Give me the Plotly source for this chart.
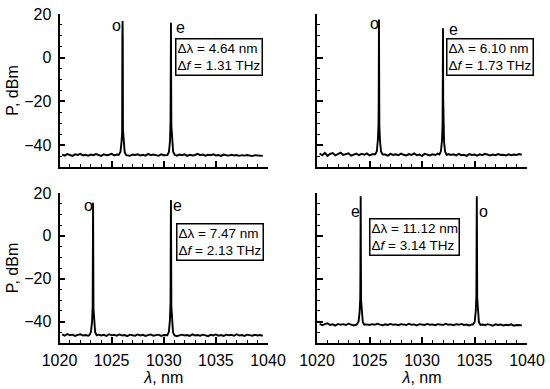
import numpy as np
import plotly.graph_objects as go

# ---------------- data ----------------
grid_start = 1020.25
grid_step = 0.25

base_tl = [-44.3,-44.8,-44.1,-44.6,-44.9,-44.2,-44.5,-44.0,-44.7,-44.4,
           -44.8,-44.3,-44.6,-44.1,-44.5,-44.9,-44.2,-44.6,-44.4,-44.0,
           -44.7,-44.3,-44.8,-44.5,-44.1,-44.6,-44.9,-44.3,-44.5,-44.2,
           -44.7,-44.4,-44.8,-44.0,-44.6,-44.3,-44.5,-44.9,-44.2,-44.6,
           -44.4,-44.7,-44.1,-44.5,-44.8,-44.3,-44.6,-44.2,-44.9,-44.4,
           -44.7,-44.5,-44.0,-44.6,-44.3,-44.8,-44.4,-44.6,-44.2,-44.7,
           -44.5,-44.9,-44.3,-44.6,-44.8,-44.4,-44.7,-44.5,-44.9,-44.6,
           -44.8,-44.5,-44.7,-45.0,-44.6,-44.8,-44.7,-44.9]
base_tr = [-43.8,-44.6,-43.5,-44.9,-44.0,-43.6,-44.7,-44.2,-43.4,-44.5,
           -44.1,-43.7,-44.8,-44.3,-43.9,-44.6,-44.0,-44.4,-43.8,-44.7,
           -44.2,-44.5,-43.9,-44.6,-44.1,-44.3,-44.8,-44.0,-44.5,-44.2,
           -44.6,-43.9,-44.4,-44.7,-44.1,-44.5,-43.8,-44.6,-44.3,-44.9,
           -44.0,-44.4,-44.7,-44.2,-44.5,-43.9,-44.6,-44.3,-44.8,-44.1,
           -44.5,-44.2,-44.7,-44.0,-44.6,-44.4,-44.9,-44.1,-44.5,-44.3,
           -44.8,-44.2,-44.6,-44.0,-44.5,-44.7,-44.3,-44.6,-44.1,-44.5,
           -44.4,-44.7,-44.2,-44.6,-44.3,-44.5,-44.1,-44.4]
base_bl = [-46.0,-46.6,-45.8,-46.4,-46.1,-46.7,-46.2,-45.9,-46.5,-46.3,
           -46.6,-46.0,-46.4,-46.8,-46.1,-46.5,-46.2,-46.7,-45.9,-46.4,
           -46.2,-46.6,-46.0,-46.5,-46.3,-46.8,-46.1,-46.4,-46.6,-46.0,
           -46.5,-46.2,-46.7,-46.3,-46.0,-46.6,-46.4,-46.1,-46.7,-46.3,
           -46.5,-46.0,-46.6,-46.2,-46.8,-46.4,-46.1,-46.5,-46.3,-46.7,
           -46.0,-46.5,-46.3,-46.6,-46.1,-46.4,-46.8,-46.2,-46.5,-46.0,
           -46.6,-46.3,-46.7,-46.1,-46.4,-46.2,-46.6,-45.9,-46.5,-46.3,
           -46.7,-46.1,-46.4,-46.6,-46.2,-46.5,-46.3,-46.6]
base_br = [-41.0,-41.7,-41.2,-40.8,-41.6,-41.3,-41.9,-41.1,-41.5,-41.2,
           -41.6,-41.0,-41.4,-41.8,-41.2,-41.5,-41.1,-41.7,-41.3,-41.6,
           -41.2,-41.5,-41.0,-41.4,-41.7,-41.3,-41.6,-41.1,-41.5,-41.3,
           -41.7,-41.2,-41.4,-41.6,-41.0,-41.5,-41.3,-41.8,-41.2,-41.4,
           -41.6,-41.1,-41.5,-41.3,-41.7,-41.2,-41.4,-41.6,-41.0,-41.5,
           -41.3,-41.7,-41.2,-41.5,-41.1,-41.6,-41.4,-41.8,-41.3,-41.5,
           -41.1,-41.6,-41.4,-41.7,-41.2,-41.5,-41.9,-41.3,-41.6,-41.4,
           -41.8,-41.5,-41.7,-41.3,-41.9,-41.6,-41.8,-41.7]

# peaks (wavelength nm, power dBm)
tl_o_wl = [1025.70,1025.85,1025.95,1026.01,1026.03,1026.05,1026.07,1026.09,1026.15,1026.25,1026.40]
tl_o_p  = [-44.4,-43.0,-38.5,-34.0,9.0,16.8,8.0,-33.0,-39.0,-43.2,-44.6]
tl_e_wl = [1030.35,1030.50,1030.60,1030.65,1030.67,1030.69,1030.71,1030.73,1030.80,1030.90,1031.05]
tl_e_p  = [-44.5,-43.1,-38.0,-29.0,-10.0,16.0,-9.0,-31.0,-38.5,-43.0,-44.4]

tr_o_wl = [1025.55,1025.70,1025.80,1025.86,1025.88,1025.90,1025.92,1025.94,1026.00,1026.10,1026.25]
tr_o_p  = [-44.2,-42.8,-37.5,-30.0,-17.0,17.5,-16.0,-31.0,-38.0,-42.9,-44.3]
tr_e_wl = [1031.65,1031.80,1031.90,1031.96,1031.98,1032.00,1032.02,1032.04,1032.10,1032.20,1032.35]
tr_e_p  = [-44.3,-42.9,-38.0,-31.0,-20.0,13.5,-19.0,-32.0,-38.5,-43.0,-44.5]

bl_o_wl = [1022.87,1023.02,1023.12,1023.18,1023.20,1023.22,1023.24,1023.26,1023.32,1023.42,1023.57]
bl_o_p  = [-46.3,-44.8,-40.0,-33.0,-10.0,15.5,-9.0,-34.0,-40.5,-45.0,-46.4]
bl_e_wl = [1030.34,1030.49,1030.59,1030.65,1030.67,1030.69,1030.71,1030.73,1030.79,1030.89,1031.04]
bl_e_p  = [-46.4,-44.9,-39.5,-31.0,-5.0,16.7,-4.0,-33.0,-40.0,-45.1,-46.5]

br_e_wl = [1023.81,1023.96,1024.06,1024.12,1024.14,1024.16,1024.18,1024.20,1024.26,1024.36,1024.51]
br_e_p  = [-41.3,-40.0,-35.5,-29.0,-10.0,18.5,-9.0,-30.0,-36.0,-40.2,-41.5]
br_o_wl = [1034.87,1035.02,1035.12,1035.18,1035.20,1035.22,1035.24,1035.26,1035.32,1035.42,1035.57]
br_o_p  = [-41.4,-40.1,-35.0,-28.0,-6.0,18.5,-5.0,-29.0,-35.5,-40.3,-41.6]

box_texts = ["Δλ = 4.64 nm<br>Δ<i>f</i> = 1.31 THz",
             "Δλ = 6.10 nm<br>Δ<i>f</i> = 1.73 THz",
             "Δλ = 7.47 nm<br>Δ<i>f</i> = 2.13 THz",
             "Δλ = 11.12 nm<br>Δ<i>f</i> = 3.14 THz"]

# ---------------- build ----------------
W, H = 550, 389
def px(x): return x / W
def py(y): return 1 - y / H

def spectrum(base, peaks):
    wl = grid_start + grid_step * np.arange(len(base))
    wl = np.round(wl, 3)
    base = np.array(base)
    keep = np.ones(len(wl), bool)
    for pw, pp in peaks:
        c = pw[len(pw)//2]
        keep &= np.abs(wl - c) > 0.45
    xs = list(wl[keep])
    ys = list(base[keep])
    for pw, pp in peaks:
        xs += pw
        ys += pp
    order = np.argsort(xs)
    return np.array(xs)[order], np.array(ys)[order]

panels = [
    (base_tl, [(tl_o_wl, tl_o_p), (tl_e_wl, tl_e_p)]),
    (base_tr, [(tr_o_wl, tr_o_p), (tr_e_wl, tr_e_p)]),
    (base_bl, [(bl_o_wl, bl_o_p), (bl_e_wl, bl_e_p)]),
    (base_br, [(br_e_wl, br_e_p), (br_o_wl, br_o_p)]),
]

xdom_l = [px(59.5), px(268)]
xdom_r = [px(317), px(527)]
ydom_t = [py(167), py(14)]
ydom_b = [py(343), py(193)]
doms = [(xdom_l, ydom_t), (xdom_r, ydom_t), (xdom_l, ydom_b), (xdom_r, ydom_b)]

FONT = "Liberation Sans, Arial, Helvetica, sans-serif"
fig = go.Figure()
layout = dict(
    width=W, height=H, margin=dict(l=0, r=0, t=0, b=0, autoexpand=False),
    paper_bgcolor="white", plot_bgcolor="white", showlegend=False,
    font=dict(family=FONT, size=16, color="black"),
)

for i, ((base, peaks), (xd, yd)) in enumerate(zip(panels, doms)):
    n = i + 1
    xs, ys = spectrum(base, peaks)
    xa = "x" if n == 1 else f"x{n}"
    ya = "y" if n == 1 else f"y{n}"
    fig.add_trace(go.Scatter(x=xs, y=ys, mode="lines", xaxis=xa, yaxis=ya,
                             line=dict(color="black", width=1.9)))
    xkey = "xaxis" if n == 1 else f"xaxis{n}"
    ykey = "yaxis" if n == 1 else f"yaxis{n}"
    bottom = n in (3, 4)
    left = n in (1, 3)
    layout[xkey] = dict(
        domain=xd, anchor=ya, range=[1020, 1040], automargin=False,
        tickmode="linear", tick0=1020, dtick=5, ticklabeloverflow="allow",
        showticklabels=bottom, ticks="inside", ticklen=6, tickwidth=1.5,
        tickcolor="black", showline=True, linecolor="black", linewidth=1.8,
        showgrid=False, zeroline=False, ticklabelstandoff=2,
        minor=dict(dtick=1, ticks="inside", ticklen=3, tickwidth=1.3, tickcolor="black", showgrid=False),
        tickfont=dict(size=16, family=FONT),
        title=dict(text="<i>λ</i>, nm" if bottom else "", font=dict(size=16), standoff=0),
    )
    layout[ykey] = dict(
        domain=yd, anchor=xa, range=[-50, 20], automargin=False,
        tickmode="linear", tick0=0, dtick=20, ticklabeloverflow="allow",
        showticklabels=left, ticks="inside", ticklen=6, tickwidth=1.5,
        tickcolor="black", showline=True, linecolor="black", linewidth=1.8,
        showgrid=False, zeroline=False, ticklabelstandoff=3,
        minor=dict(dtick=5, ticks="inside", ticklen=3, tickwidth=1.3, tickcolor="black", showgrid=False),
        tickfont=dict(size=16, family=FONT),
        title=dict(text="P, dBm" if left else "", font=dict(size=16), standoff=2),
    )

fig.update_layout(**layout)

box_pos = [(175, 38), (446, 38), (176, 223), (369, 218)]
for (bx, by), t in zip(box_pos, box_texts):
    fig.add_annotation(x=px(bx), y=py(by), xref="paper", yref="paper",
                       xanchor="left", yanchor="top", text=t, showarrow=False,
                       align="left", font=dict(size=13.5, family=FONT),
                       bordercolor="black", borderwidth=1.5, borderpad=1,
                       bgcolor="white")

labels = [("o", 116, 26), ("e", 180, 27), ("o", 374, 24), ("e", 453, 30),
          ("o", 88, 205), ("e", 177, 205), ("e", 355, 211), ("o", 483, 211)]
for t, lx, ly in labels:
    fig.add_annotation(x=px(lx), y=py(ly), xref="paper", yref="paper",
                       xanchor="center", yanchor="middle",
                       text=t, showarrow=False, font=dict(size=16, family=FONT))

fig.write_html("out.html", config={"displayModeBar": False},
               post_script="document.body.style.margin='0px';document.body.style.padding='0px';")
